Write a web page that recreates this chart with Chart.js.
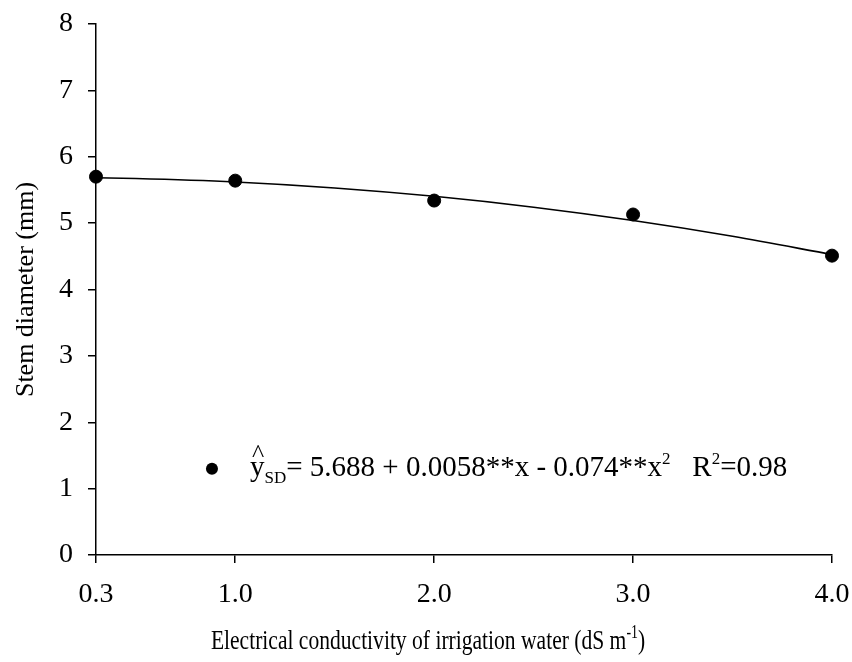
<!DOCTYPE html>
<html><head><meta charset="utf-8">
<script src="https://cdn.jsdelivr.net/npm/chart.js@4"></script>
<style>
html,body{margin:0;padding:0;background:#fff;overflow:hidden;}
#wrap{position:relative;width:900px;height:662px;}
</style></head><body>
<div id="wrap"><canvas id="c"></canvas></div>
<script>
const xTicks = [0.3, 1.0, 2.0, 3.0, 4.0];
const ecLevels = [0.3, 1.0, 2.0, 3.0, 4.0];
const stemDiameter = [5.70, 5.64, 5.34, 5.13, 4.51];
const fitX = [0.3, 0.5, 1.0, 1.5, 2.0, 2.5, 3.0, 3.5, 4.0];
const fitY = [5.683, 5.672, 5.620, 5.530, 5.404, 5.240, 5.039, 4.802, 4.527];
const yTitle = 'Stem diameter (mm)';
const xTitleMain = 'Electrical conductivity of irrigation water (dS m';
const xTitleSup = '-1';
const xTitleEnd = ')';

const FONT = '"Liberation Serif", "Times New Roman", serif';
const TICK_SIZE = 28, TITLE_SIZE = 28, YTITLE_SIZE = 26, EQ_SIZE = 29;
const legendAt = {x: 0.883, y: 1.30};
const eqAt = {x: 1.074, y: 1.19};

function font(sz){ return sz + 'px ' + FONT; }

const annot = {
  id: 'annot',
  afterDraw(chart){
    const ctx = chart.ctx, xs = chart.scales.x, ys = chart.scales.y;
    ctx.save();
    ctx.fillStyle = '#000';
    ctx.textBaseline = 'alphabetic';
    ctx.textAlign = 'left';
    // legend marker
    const mx = xs.getPixelForValue(legendAt.x), my = ys.getPixelForValue(legendAt.y);
    ctx.beginPath(); ctx.arc(mx, my, 6, 0, Math.PI*2); ctx.fill();
    // equation
    let x = xs.getPixelForValue(eqAt.x);
    const base = ys.getPixelForValue(eqAt.y);
    const sub = 17;
    function run(t, sz, dy){
      ctx.font = font(sz);
      ctx.fillText(t, x, base + dy);
      const w = ctx.measureText(t).width;
      x += w; return w;
    }
    const yStart = x;
    const yw = run('y', EQ_SIZE, 0);
    ctx.font = font(Math.round(EQ_SIZE*0.9));
    ctx.textAlign = 'center';
    ctx.fillText('^', yStart + yw/2 + 1, base - EQ_SIZE*0.48);
    ctx.textAlign = 'left';
    run('SD', sub, 7);
    run('= 5.688 + 0.0058**x - 0.074**x', EQ_SIZE, 0);
    run('2', sub, -12);
    run('   R', EQ_SIZE, 0);
    run('2', sub, -12);
    run('=0.98', EQ_SIZE, 0);
    // x axis title (slightly condensed as in the reference)
    const sx = 0.77;
    const supSz = Math.round(TITLE_SIZE*0.66);
    ctx.font = font(TITLE_SIZE);
    const w1 = ctx.measureText(xTitleMain).width;
    const w3 = ctx.measureText(xTitleEnd).width;
    ctx.font = font(supSz);
    const w2 = ctx.measureText(xTitleSup).width;
    const total = (w1 + w2 + w3) * sx;
    ctx.translate(428 - total/2, 649);
    ctx.scale(sx, 1);
    let tx = 0;
    ctx.font = font(TITLE_SIZE);
    ctx.fillText(xTitleMain, tx, 0); tx += w1;
    ctx.font = font(supSz);
    ctx.fillText(xTitleSup, tx, -11); tx += w2;
    ctx.font = font(TITLE_SIZE);
    ctx.fillText(xTitleEnd, tx, 0);
    ctx.restore();
  }
};

new Chart(document.getElementById('c'), {
  type: 'scatter',
  data: { datasets: [
    { type: 'line', data: fitX.map((x, i) => ({x, y: fitY[i]})), borderColor: '#000', borderWidth: 1.6,
      pointRadius: 0, fill: false, cubicInterpolationMode: 'monotone', clip: false },
    { type: 'scatter', data: ecLevels.map((x, i) => ({x, y: stemDiameter[i]})), backgroundColor: '#000',
      borderColor: '#000', pointRadius: 6.5, pointHoverRadius: 6.5, clip: false }
  ]},
  options: {
    responsive: true, maintainAspectRatio: false, animation: false,
    layout: { padding: { left: 0, right: 68, top: 24, bottom: 0 } },
    plugins: { legend: { display: false }, tooltip: { enabled: false } },
    scales: {
      x: { type: 'linear', min: 0.3, max: 4.0,
        afterBuildTicks: s => { s.ticks = xTicks.map(v => ({value: v})); },
        afterFit: s => { s.height = 107; },
        grid: { drawOnChartArea: false, drawTicks: true, tickLength: 8, color: '#000', lineWidth: 1.5 },
        border: { display: true, color: '#000', width: 1.5 },
        ticks: { color: '#000', font: { family: FONT, size: TICK_SIZE }, padding: 15, maxRotation: 0, autoSkip: false,
          callback: v => Number(v).toFixed(1) },
        title: { display: false }
      },
      y: { min: 0, max: 8,
        afterFit: s => { s.width = 96; s.paddingTop = 0; s.paddingBottom = 0; },
        ticks: { stepSize: 1, color: '#000', font: { family: FONT, size: TICK_SIZE }, padding: 15 },
        grid: { drawOnChartArea: false, drawTicks: true, tickLength: 8, color: '#000', lineWidth: 1.5 },
        border: { display: true, color: '#000', width: 1.5 },
        title: { display: true, text: yTitle, color: '#000', font: { family: FONT, size: YTITLE_SIZE }, padding: { top: 11, bottom: 0 } }
      }
    }
  },
  plugins: [annot]
});
</script>
</body></html>
